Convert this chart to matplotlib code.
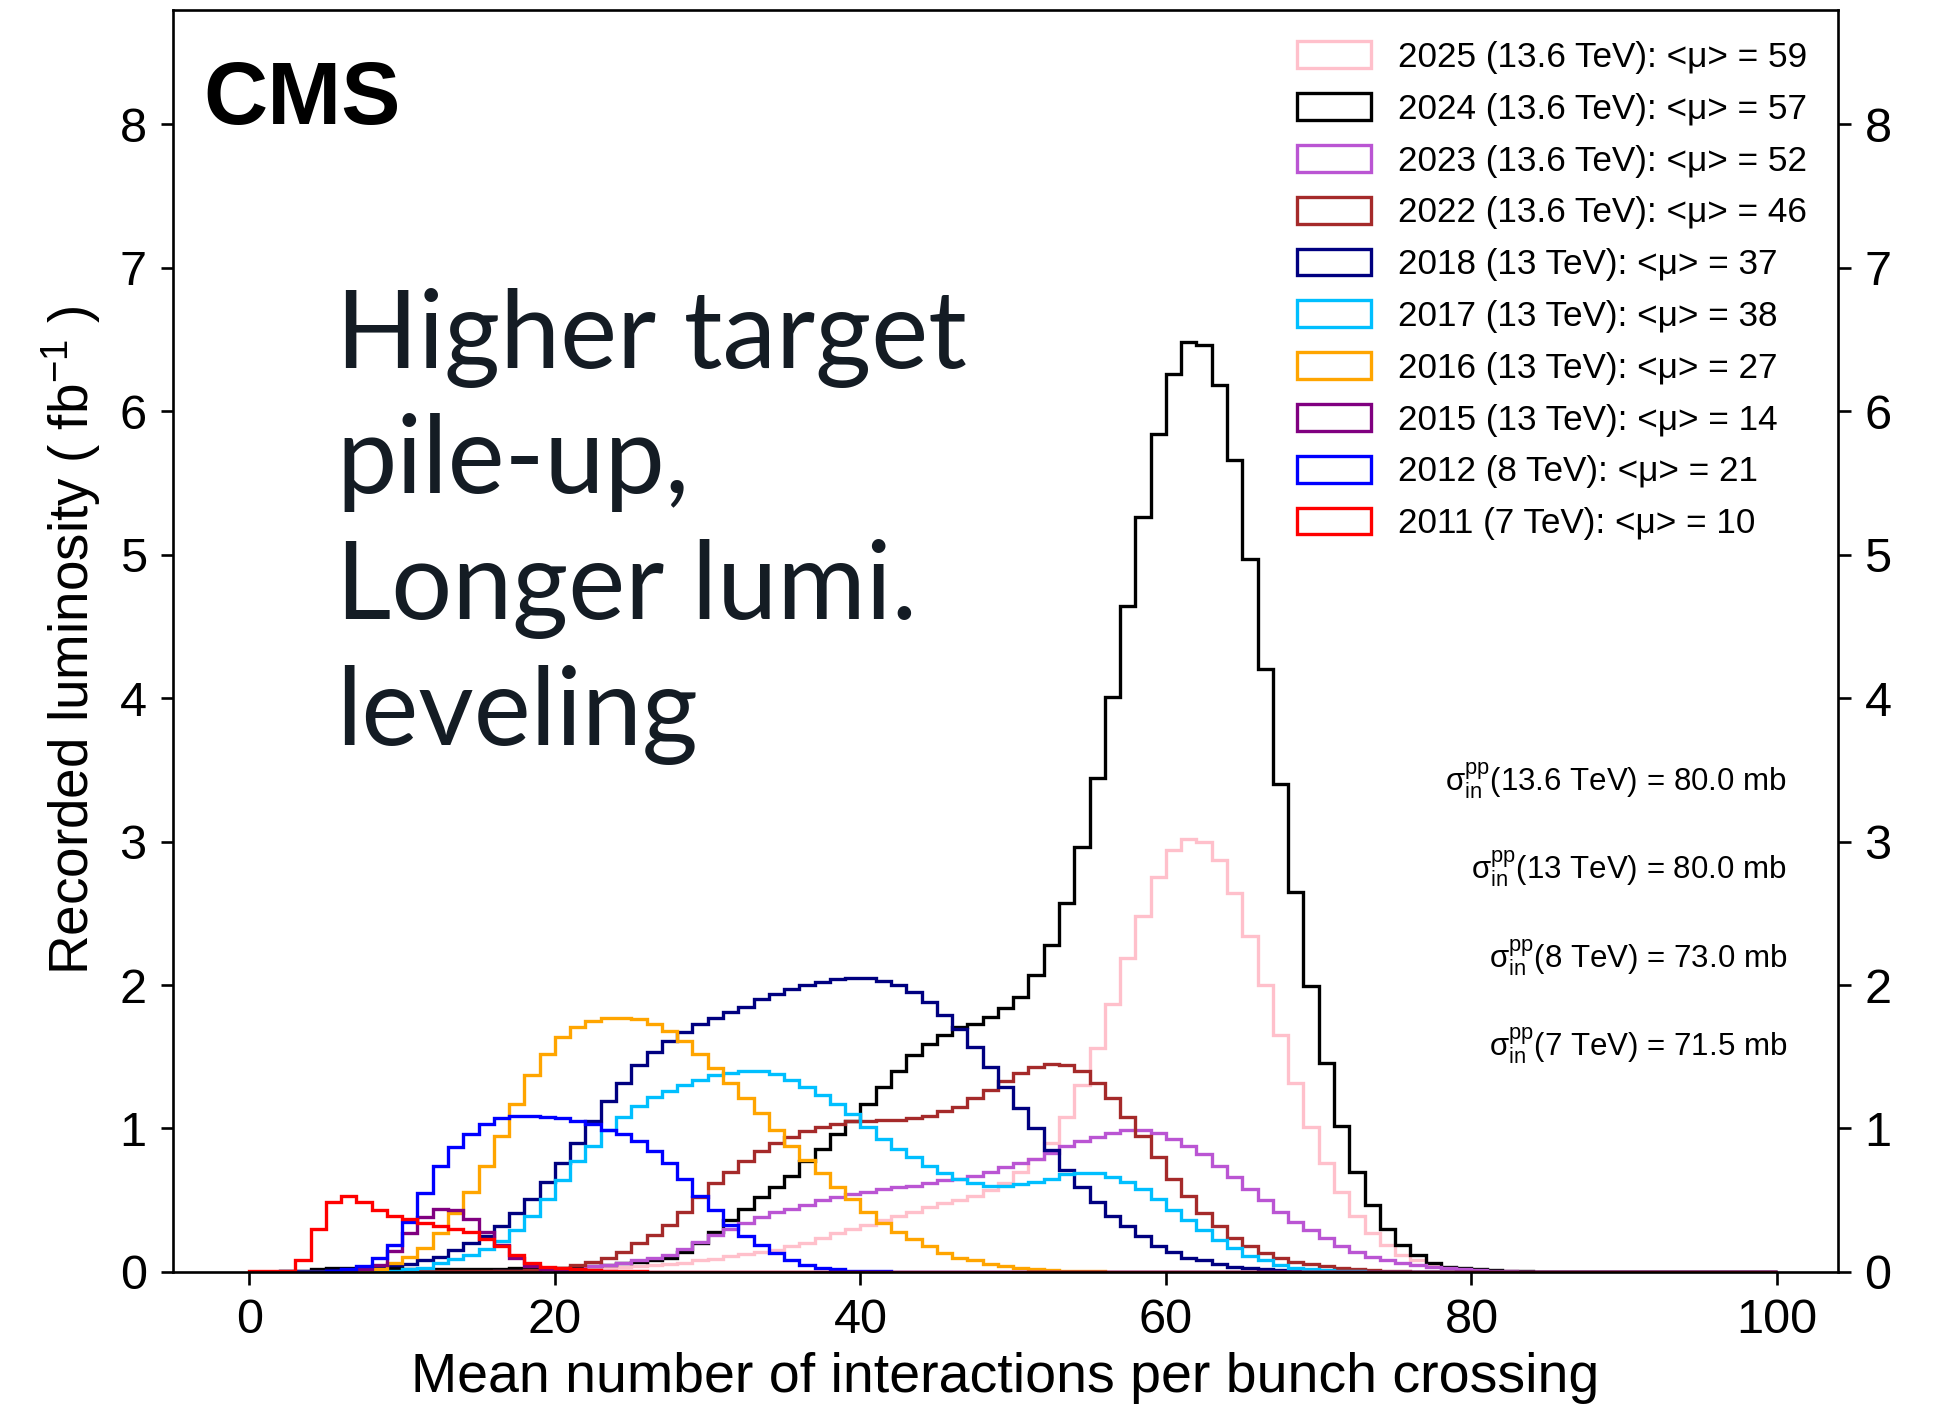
import numpy as np
import matplotlib
matplotlib.use("Agg")
import matplotlib.pyplot as plt
from matplotlib.patches import Patch

plt.rcParams["font.family"] = ["Liberation Sans", "DejaVu Sans"]
plt.rcParams["mathtext.fontset"] = "custom"
plt.rcParams["mathtext.rm"] = "Liberation Sans"
plt.rcParams["mathtext.it"] = "Liberation Sans:italic"
plt.rcParams["mathtext.bf"] = "Liberation Sans:bold"

# ---- data: recorded luminosity (fb^-1) per unit-width pile-up bin, 0..100 ----
bin_edges = np.arange(0, 101)

years = ["2025", "2024", "2023", "2022", "2018", "2017", "2016", "2015", "2012", "2011"]
energies = ["13.6", "13.6", "13.6", "13.6", "13", "13", "13", "13", "8", "7"]
mean_pileup = [59, 57, 52, 46, 37, 38, 27, 14, 21, 10]
colors = ["pink", "black", "mediumorchid", "brown", "navy",
          "deepskyblue", "orange", "purple", "blue", "red"]

# first filled bin of each year, followed by the bin contents
start_2025 = 15
lumi_2025 = [0.003, 0.004, 0.005, 0.007, 0.01, 0.015, 0.02, 0.025, 0.03, 0.035,
             0.04, 0.045, 0.055, 0.065, 0.08, 0.09, 0.11, 0.125, 0.14, 0.155,
             0.18, 0.20, 0.24, 0.27, 0.30, 0.33, 0.36, 0.39, 0.42, 0.45,
             0.48, 0.50, 0.53, 0.57, 0.62, 0.70, 0.785, 0.90, 1.08, 1.30,
             1.56, 1.87, 2.19, 2.48, 2.75, 2.94, 3.02, 3.00, 2.87, 2.64,
             2.34, 2.00, 1.65, 1.32, 1.01, 0.76, 0.56, 0.39, 0.27, 0.19,
             0.12, 0.08, 0.05, 0.03, 0.02, 0.01, 0.006, 0.004]

start_2024 = 2
lumi_2024 = [0.005, 0.01, 0.02, 0.025, 0.03, 0.03, 0.03, 0.025,
             0.02, 0.02, 0.02, 0.02, 0.02, 0.02, 0.02, 0.025, 0.025, 0.03,
             0.03, 0.035, 0.04, 0.05, 0.06, 0.07, 0.085, 0.10, 0.14, 0.20,
             0.28, 0.36, 0.44, 0.52, 0.595, 0.67, 0.77, 0.86, 0.96, 1.055,
             1.17, 1.29, 1.40, 1.51, 1.59, 1.65, 1.71, 1.73, 1.78, 1.84,
             1.92, 2.07, 2.28, 2.57, 2.96, 3.44, 4.01, 4.64, 5.26, 5.84,
             6.26, 6.485, 6.46, 6.18, 5.66, 4.97, 4.20, 3.40, 2.65, 1.99,
             1.455, 1.02, 0.70, 0.47, 0.30, 0.19, 0.12, 0.065, 0.037, 0.03,
             0.02, 0.012, 0.008, 0.005, 0.003]

start_2023 = 15
lumi_2023 = [0.003, 0.004, 0.005, 0.007, 0.008, 0.01, 0.02, 0.04, 0.05, 0.06,
             0.08, 0.10, 0.12, 0.16, 0.21, 0.26, 0.30, 0.34, 0.38, 0.42,
             0.44, 0.47, 0.50, 0.52, 0.54, 0.56, 0.58, 0.59, 0.60, 0.62,
             0.64, 0.65, 0.67, 0.70, 0.73, 0.76, 0.79, 0.83, 0.88, 0.91,
             0.94, 0.97, 0.99, 0.99, 0.97, 0.93, 0.88, 0.82, 0.74, 0.665,
             0.58, 0.50, 0.42, 0.35, 0.29, 0.235, 0.18, 0.14, 0.107, 0.08,
             0.06, 0.045, 0.035, 0.025, 0.018, 0.012, 0.008, 0.005, 0.003]

start_2022 = 10
lumi_2022 = [0.003, 0.004, 0.005, 0.005, 0.006, 0.005, 0.008, 0.01, 0.015, 0.02,
             0.03, 0.045, 0.07, 0.10, 0.14, 0.20, 0.26, 0.33, 0.42, 0.52,
             0.62, 0.70, 0.77, 0.84, 0.90, 0.94, 0.98, 1.01, 1.03, 1.05,
             1.05, 1.06, 1.06, 1.07, 1.09, 1.12, 1.15, 1.21, 1.27, 1.33,
             1.39, 1.43, 1.45, 1.44, 1.40, 1.32, 1.21, 1.08, 0.95, 0.80,
             0.65, 0.53, 0.41, 0.32, 0.235, 0.18, 0.13, 0.095, 0.07, 0.055,
             0.04, 0.03, 0.02, 0.015, 0.01, 0.007]

start_2018 = 1
lumi_2018 = [0.003, 0.005, 0.008, 0.01, 0.015, 0.02, 0.025, 0.03, 0.045, 0.057,
             0.08, 0.105, 0.15, 0.20, 0.25, 0.32, 0.41, 0.51, 0.63, 0.76,
             0.90, 1.05, 1.19, 1.32, 1.44, 1.53, 1.61, 1.67, 1.73, 1.77,
             1.81, 1.85, 1.90, 1.94, 1.97, 2.00, 2.02, 2.04, 2.05, 2.05,
             2.03, 2.00, 1.95, 1.88, 1.79, 1.69, 1.57, 1.43, 1.29, 1.14,
             1.00, 0.85, 0.71, 0.59, 0.49, 0.39, 0.32, 0.25, 0.18, 0.14,
             0.10, 0.08, 0.056, 0.037, 0.03, 0.02, 0.015, 0.01, 0.008, 0.005,
             0.003]

start_2017 = 9
lumi_2017 = [0.01, 0.02, 0.03, 0.06, 0.09, 0.115, 0.157, 0.215, 0.29, 0.39,
             0.51, 0.64, 0.77, 0.88, 0.99, 1.08, 1.16, 1.22, 1.26, 1.30,
             1.34, 1.37, 1.39, 1.40, 1.40, 1.38, 1.34, 1.29, 1.23, 1.17,
             1.10, 1.01, 0.93, 0.86, 0.80, 0.74, 0.69, 0.65, 0.62, 0.60,
             0.60, 0.61, 0.63, 0.65, 0.68, 0.69, 0.69, 0.66, 0.63, 0.58,
             0.51, 0.43, 0.36, 0.29, 0.22, 0.165, 0.11, 0.084, 0.049, 0.03,
             0.02, 0.012, 0.008, 0.005]

start_2016 = 8
lumi_2016 = [0.02, 0.06, 0.105, 0.17, 0.27, 0.41, 0.56, 0.74, 0.95, 1.17,
             1.37, 1.52, 1.64, 1.71, 1.75, 1.77, 1.77, 1.76, 1.73, 1.68,
             1.61, 1.52, 1.42, 1.32, 1.21, 1.11, 0.99, 0.88, 0.78, 0.69,
             0.59, 0.51, 0.42, 0.34, 0.28, 0.23, 0.18, 0.13, 0.10, 0.08,
             0.056, 0.04, 0.03, 0.02, 0.015, 0.01, 0.007, 0.005]

start_2015 = 6
lumi_2015 = [0.01, 0.02, 0.05, 0.145, 0.27, 0.38, 0.44, 0.43, 0.37, 0.28,
             0.19, 0.10, 0.04, 0.02, 0.01, 0.005]

start_2012 = 5
lumi_2012 = [0.01, 0.02, 0.04, 0.10, 0.19, 0.35, 0.55, 0.74, 0.87, 0.96,
             1.03, 1.07, 1.09, 1.09, 1.08, 1.07, 1.05, 1.03, 0.99, 0.96,
             0.91, 0.84, 0.76, 0.65, 0.53, 0.43, 0.33, 0.25, 0.19, 0.13,
             0.08, 0.05, 0.03, 0.02, 0.01, 0.007, 0.005, 0.003]

start_2011 = 0
lumi_2011 = [0.01, 0.005, 0.01, 0.08, 0.30, 0.49, 0.53, 0.49, 0.43, 0.39,
             0.37, 0.34, 0.32, 0.30, 0.28, 0.23, 0.18, 0.115, 0.06, 0.036,
             0.03, 0.02, 0.015, 0.01, 0.007, 0.005]

series = [(start_2025, lumi_2025), (start_2024, lumi_2024), (start_2023, lumi_2023),
          (start_2022, lumi_2022), (start_2018, lumi_2018), (start_2017, lumi_2017),
          (start_2016, lumi_2016), (start_2015, lumi_2015), (start_2012, lumi_2012),
          (start_2011, lumi_2011)]

cross_sections = [r"$\mathrm{\sigma}^{\mathrm{pp}}_{\mathrm{in}}$(13.6 TeV) = 80.0 mb",
                  r"$\mathrm{\sigma}^{\mathrm{pp}}_{\mathrm{in}}$(13 TeV) = 80.0 mb",
                  r"$\mathrm{\sigma}^{\mathrm{pp}}_{\mathrm{in}}$(8 TeV) = 73.0 mb",
                  r"$\mathrm{\sigma}^{\mathrm{pp}}_{\mathrm{in}}$(7 TeV) = 71.5 mb"]

note_lines = ["Higher target", "pile-up,", "Longer lumi.", "leveling"]


def full_histogram(start, values):
    counts = np.zeros(len(bin_edges) - 1)
    counts[start:start + len(values)] = values
    return counts


fig = plt.figure(figsize=(19.36, 14.18), dpi=100)
ax = fig.add_axes([0.0894, 0.1030, 0.8600, 0.8903])

handles, labels = [], []
for (start, vals), year, energy, mu, col in zip(series, years, energies, mean_pileup, colors):
    ax.stairs(full_histogram(start, vals), bin_edges, color=col, linewidth=2.4, baseline=0)
    handles.append(Patch(facecolor="none", edgecolor=col, linewidth=2.4))
    labels.append(f"{year} ({energy} TeV): <μ> = {mu}")

ax.set_xlim(-5, 104)
ax.set_ylim(0, 8.8)
ax.set_xticks(np.arange(0, 101, 20))
ax.set_yticks(np.arange(0, 9, 1))
ax.tick_params(axis="both", direction="out", length=9, width=1.9, labelsize=35, pad=10)
ax.tick_params(axis="y", left=True, right=True, labelleft=True, labelright=True)
for sp in ax.spines.values():
    sp.set_linewidth(1.9)

ax.set_xlabel("Mean number of interactions per bunch crossing", fontsize=40)
ax.xaxis.set_label_coords(0.5, -0.0638)
ax.set_ylabel(r"Recorded luminosity ( fb$^{\mathrm{-1}}$ )", fontsize=39.5)
ax.yaxis.set_label_coords(-0.0422, 0.5)

ax.legend(handles, labels, loc="upper left", bbox_to_anchor=(0.675, 0.975),
          frameon=False, fontsize=25.3, borderpad=0, borderaxespad=0,
          handlelength=2.1, handleheight=0.8, handletextpad=0.78, labelspacing=0.535)

fig.text(0.1049, 0.9126, "CMS", fontsize=64, fontweight="bold", va="baseline")

for txt, yb in zip(cross_sections, [0.4417, 0.3799, 0.3171, 0.2548]):
    fig.text(0.923, yb, txt, fontsize=22.5, ha="right", va="baseline")

for line, yb in zip(note_lines, [0.7405, 0.6523, 0.5635, 0.4746]):
    fig.text(0.1735, yb, line, fontsize=77.5, family="Lato", color="#141c24", va="baseline")

fig.savefig("out.png", dpi=100)
